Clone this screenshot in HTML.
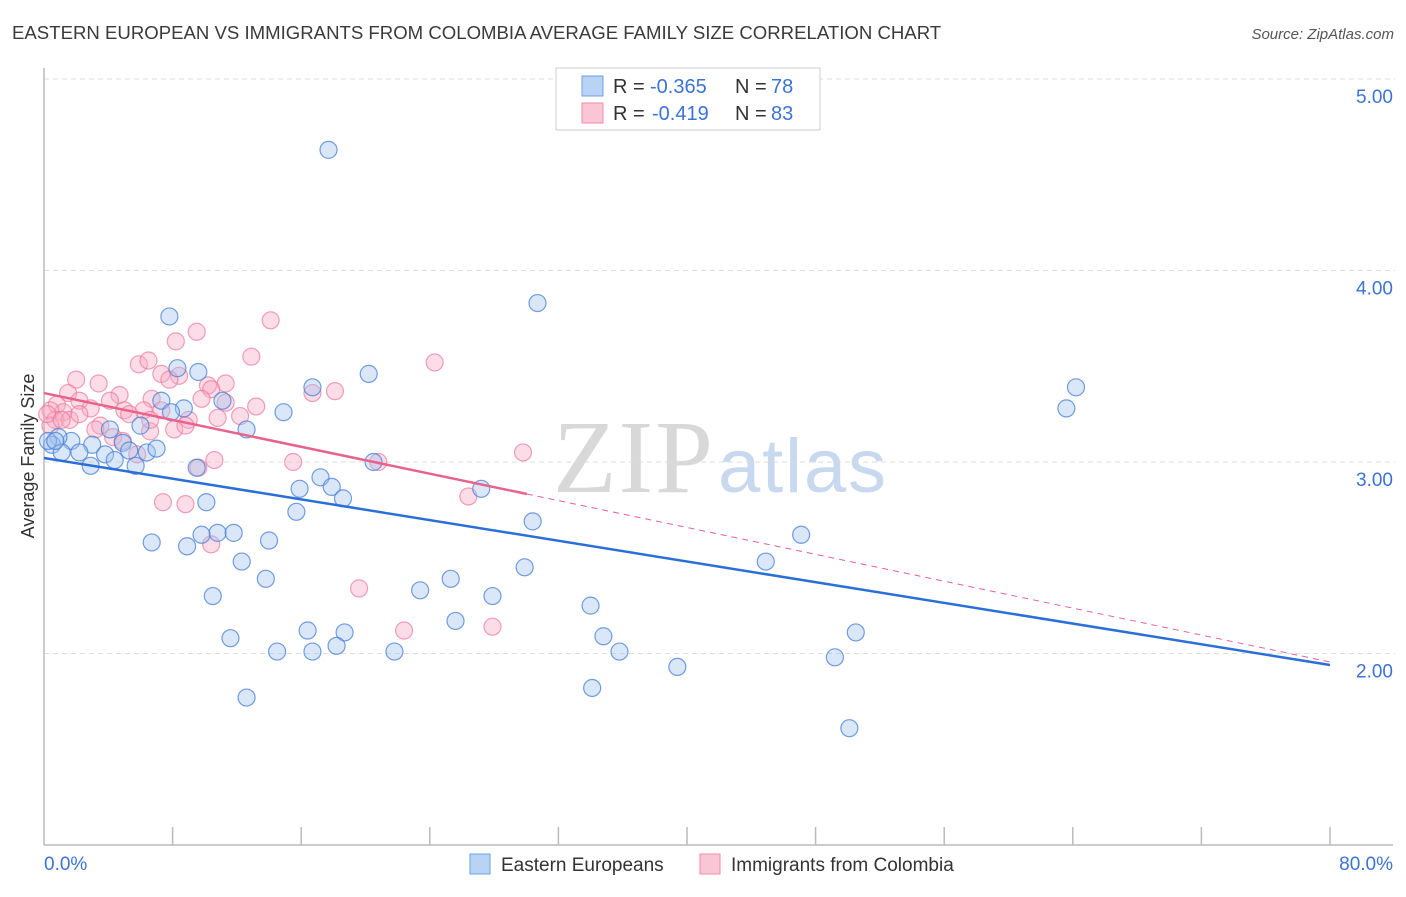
<!DOCTYPE html>
<html><head><meta charset="utf-8">
<style>
html,body{margin:0;padding:0;background:#fff;}
body{width:1406px;height:892px;overflow:hidden;font-family:"Liberation Sans",sans-serif;}
</style></head>
<body>
<svg id="chart" width="1406" height="892" xmlns="http://www.w3.org/2000/svg" style="font-family:'Liberation Sans',sans-serif">
<text x="12" y="39" font-size="18.6" fill="#3a3a3a">EASTERN EUROPEAN VS IMMIGRANTS FROM COLOMBIA AVERAGE FAMILY SIZE CORRELATION CHART</text>
<text x="1394" y="39" font-size="15" fill="#555" font-style="italic" text-anchor="end">Source: ZipAtlas.com</text>
<text x="553" y="492" font-size="104" fill="#d8d8d8" font-family="Liberation Serif,serif" textLength="160">ZIP</text>
<text x="718" y="492" font-size="76" fill="#c7d8ef" textLength="168">atlas</text>
<g id="grid"></g>
<g id="axes"></g>
<g id="marks"></g>
<g id="trends"></g>
<text transform="translate(34,456) rotate(-90)" font-size="18" fill="#333" text-anchor="middle">Average Family Size</text>
<g>
<rect x="556" y="68" width="264" height="62" fill="#fff" stroke="#ccc"/>
<rect x="582" y="76" width="21" height="20" fill="#b9d3f5" stroke="#6f9fe3"/>
<rect x="582" y="103" width="21" height="20" fill="#fac5d5" stroke="#f08aa8"/>
<text x="613" y="93" font-size="20" fill="#333">R =</text>
<text x="650" y="93" font-size="20" fill="#3b73d6">-0.365</text>
<text x="735" y="93" font-size="20" fill="#333">N =</text>
<text x="771" y="93" font-size="20" fill="#3b73d6">78</text>
<text x="613" y="120" font-size="20" fill="#333">R =</text>
<text x="652" y="120" font-size="20" fill="#3b73d6">-0.419</text>
<text x="735" y="120" font-size="20" fill="#333">N =</text>
<text x="771" y="120" font-size="20" fill="#3b73d6">83</text>
</g>
<g>
<rect x="470" y="854" width="20" height="20" fill="#b9d3f5" stroke="#6f9fe3"/>
<text x="501" y="871" font-size="19" fill="#333">Eastern Europeans</text>
<rect x="700" y="854" width="20" height="20" fill="#fac5d5" stroke="#f08aa8"/>
<text x="731" y="871" font-size="19" fill="#333">Immigrants from Colombia</text>
</g>
</svg>
<script>
const yTicks=[5,4,3,2];
const yTickLabels=["5.00","4.00","3.00","2.00"];
const xTickLabels=["0.0%","80.0%"];
const blueX=[17.7,30.7,7.8,8.3,9.6,20.2,16.7,64.2,63.6,7.3,11.1,8.7,7.9,14.9,12.6,6.0,4.1,4.9,3.0,1.7,0.9,0.5,1.1,2.2,3.8,5.3,6.4,7.0,4.4,2.9,5.7,9.5,20.5,17.2,15.9,17.9,27.2,18.6,10.1,15.7,30.4,47.1,6.7,8.9,10.8,11.8,9.8,14.0,12.3,44.9,13.8,29.9,25.3,23.4,10.5,27.9,34.0,25.6,16.4,18.7,34.8,50.5,11.6,18.2,14.5,16.7,21.8,35.8,39.4,49.2,34.1,12.6,50.1,0.25,0.7];
const blueY=[4.63,3.83,3.76,3.49,3.47,3.46,3.39,3.39,3.28,3.32,3.32,3.28,3.26,3.26,3.17,3.19,3.17,3.10,3.09,3.11,3.13,3.09,3.05,3.05,3.04,3.06,3.05,3.07,3.01,2.98,2.98,2.97,3.00,2.92,2.86,2.87,2.86,2.81,2.79,2.74,2.69,2.62,2.58,2.56,2.63,2.63,2.62,2.59,2.48,2.48,2.39,2.45,2.39,2.33,2.30,2.30,2.25,2.17,2.12,2.11,2.09,2.11,2.08,2.04,2.01,2.01,2.01,2.01,1.93,1.98,1.82,1.77,1.61,3.11,3.11];
const pinkX=[14.1,9.5,8.2,12.9,5.9,6.5,24.3,7.3,8.4,7.8,11.3,10.2,2.0,3.4,1.5,4.7,18.1,16.7,10.4,9.8,13.2,11.3,6.7,4.1,5.0,6.2,2.2,0.8,1.2,2.9,0.4,0.7,1.6,3.5,5.3,7.3,12.2,10.8,9.0,8.1,8.8,3.2,4.3,6.6,5.8,4.9,0.4,0.2,10.6,9.6,15.5,20.8,29.8,26.4,7.4,8.8,10.4,19.6,22.4,27.9,1.1,2.2,6.6];
const pinkY=[3.74,3.68,3.63,3.55,3.51,3.53,3.52,3.46,3.45,3.43,3.41,3.40,3.43,3.41,3.36,3.35,3.37,3.36,3.38,3.33,3.29,3.31,3.33,3.32,3.27,3.27,3.32,3.30,3.26,3.28,3.27,3.22,3.22,3.19,3.25,3.27,3.24,3.23,3.22,3.17,3.19,3.17,3.13,3.16,3.04,3.11,3.19,3.25,3.01,2.97,3.00,3.00,3.05,2.82,2.79,2.78,2.57,2.34,2.12,2.14,3.22,3.25,3.22];
const blueTrend=[[0,3.021],[80,1.94]];
const pinkTrend=[[0,3.36],[30.04,2.833],[80,1.956]];
const NS="http://www.w3.org/2000/svg";
function xs(v){return 44+(v/80)*1286;}
function ys(v){return 79+(5-v)*191.5;}
function mk(tag,attrs,parent){const e=document.createElementNS(NS,tag);for(const k in attrs)e.setAttribute(k,attrs[k]);parent.appendChild(e);return e;}
const grid=document.getElementById('grid'),axes=document.getElementById('axes'),marks=document.getElementById('marks'),trends=document.getElementById('trends');
yTicks.forEach((t,i)=>{
  const l=mk('line',{x1:44,x2:1395,y1:ys(t),y2:ys(t),stroke:'#dcdcdc','stroke-dasharray':'5,4'},grid);
  
  
  const tx=mk('text',{x:1393,y:ys(t)+24,'font-size':19,fill:'#3b73d6','text-anchor':'end'},axes);
  tx.textContent=yTickLabels[i];
  
  
});
let a=mk('line',{x1:44,x2:44,y1:68,y2:845,stroke:'#bbb','stroke-width':1.5},axes);


a=mk('line',{x1:44,x2:1393,y1:845,y2:845,stroke:'#bbb','stroke-width':1.5},axes);


for(let k=1;k<=10;k++){
  const x=xs(k*8);
  const t=mk('line',{x1:x,x2:x,y1:827,y2:845,stroke:'#bbb','stroke-width':1.5},axes);
  
  
}
let xl=mk('text',{x:44,y:870,'font-size':19,fill:'#3b73d6'},axes);xl.textContent=xTickLabels[0];


xl=mk('text',{x:1393,y:870,'font-size':19,fill:'#3b73d6','text-anchor':'end'},axes);xl.textContent=xTickLabels[1];


pinkX.forEach((v,i)=>{
  const c=mk('circle',{cx:xs(v),cy:ys(pinkY[i]),r:8.5,fill:'rgba(248,170,195,0.4)',stroke:'rgba(236,120,155,0.7)','stroke-width':1.2},marks);
  
  
});
blueX.forEach((v,i)=>{
  const c=mk('circle',{cx:xs(v),cy:ys(blueY[i]),r:8.5,fill:'rgba(160,195,240,0.4)',stroke:'rgba(70,125,215,0.75)','stroke-width':1.2},marks);
  
  
});
let tl=mk('line',{x1:xs(blueTrend[0][0]),y1:ys(blueTrend[0][1]),x2:xs(blueTrend[1][0]),y2:ys(blueTrend[1][1]),stroke:'#2a6fd8','stroke-width':2.5},trends);


tl=mk('line',{x1:xs(pinkTrend[0][0]),y1:ys(pinkTrend[0][1]),x2:xs(pinkTrend[1][0]),y2:ys(pinkTrend[1][1]),stroke:'#e8628c','stroke-width':2.5},trends);


tl=mk('line',{x1:xs(pinkTrend[1][0]),y1:ys(pinkTrend[1][1]),x2:xs(pinkTrend[2][0]),y2:ys(pinkTrend[2][1]),stroke:'#e8628c','stroke-width':1,'stroke-dasharray':'6,5'},trends);


</script>
</body></html>
